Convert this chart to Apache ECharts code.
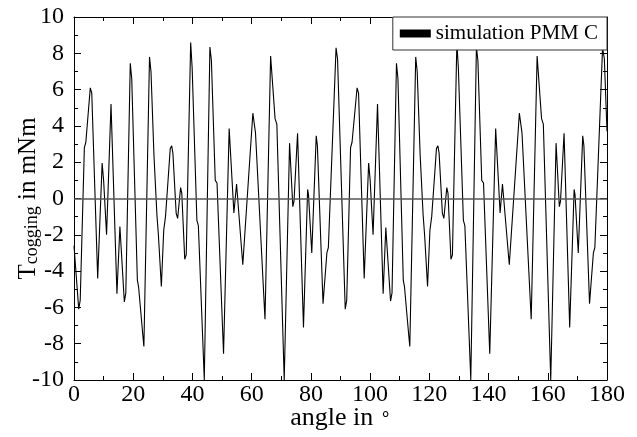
<!DOCTYPE html>
<html>
<head>
<meta charset="utf-8">
<script src="https://cdn.jsdelivr.net/npm/echarts@6/dist/echarts.min.js"></script>
<style>
html,body{margin:0;padding:0;background:#fff;}
#chart{width:637px;height:437px;}
</style>
</head>
<body>
<div id="chart"></div>
<script>
// angle in degrees (vertices of the simulated curve)
const angles = [
  0, 0.3, 1.6, 2.1, 3.5, 4.0, 5.5, 6.0, 8.0, 9.5, 10.0, 11.0, 12.5, 14.5, 15.5, 16.0, 17.0, 17.5,
  19.0, 19.5, 21.4, 21.8, 22.3, 23.2, 23.6, 25.5, 26.0, 27.0, 28.0, 28.5, 29.5, 30.3, 30.9, 31.7,
  32.5, 33.0, 33.4, 34.5, 35.0, 36.0, 36.4, 37.4, 37.9, 39.4, 39.9, 41.5, 42.0, 44.0, 45.9, 46.4,
  47.7, 48.3, 50.5, 52.4, 54.0, 54.9, 55.4, 57.0, 60.4, 61.3, 64.5, 66.4, 67.9, 68.5, 71.0, 72.8,
  73.9, 74.3, 75.5, 77.5, 78.9, 79.2, 80.3, 81.8, 82.2, 84.1, 84.5, 85.4, 85.9, 88.5, 89.0,
  91.6, 92.1, 93.4, 93.9, 95.6, 96.1, 98.0, 99.5, 100.0, 101.0, 102.5, 104.4, 105.3, 105.8, 106.9,
  107.4, 108.9, 109.4, 111.2, 111.6, 112.2, 113.0, 113.4, 115.4, 115.9, 116.9, 117.9, 118.4, 119.4,
  120.2, 120.8, 121.6, 122.4, 122.9, 123.3, 124.4, 124.9, 125.9, 126.3, 127.3, 127.8, 129.3, 129.8,
  131.5, 132.0, 134.0, 135.9, 136.4, 137.7, 138.3, 140.4, 142.4, 143.9, 144.7, 145.3, 147.0, 150.4,
  151.3, 154.4, 156.4, 157.9, 158.5, 161.0, 162.8, 163.9, 164.3, 165.5, 167.4, 168.9, 169.2, 170.3,
  171.8, 172.2, 174.1, 174.5, 175.4, 175.9, 178.5, 179.1, 180.0
];
// cogging torque in mNm
const torque = [
  -2.6, -2.7, -6.1, -5.6, 2.8, 3.1, 6.1, 5.8, -4.4, 1.95, 1.0, -2.0, 5.2, -5.25, -1.55, -1.45, -5.7, -5.2,
  7.45, 6.6, -4.5, -4.85, -4.95, -7.45, -8.15, 7.8, 7.0, 2.4, -0.9, -2.0, -4.85, -1.75, -1.0, 0.85,
  2.75, 2.9, 2.5, -0.8, -1.1, 0.6, 0.3, -3.35, -3.1, 8.6, 7.2, -1.2, -1.5, -10.0, 8.35, 7.6,
  1.0, 0.85, -8.55, 3.85, -0.8, 0.8, 0.8, -3.65, 4.7, 3.6, -6.65, 7.85, 4.4, 4.1, -10.0, 3.05,
  -0.45, -0.15, 3.6, -7.1, 0.5, 0.2, -3.0, 3.45, 2.9, -5.8, -5.7, -3.0, -2.7, 8.3, 7.7,
  -6.1, -5.6, 2.8, 3.1, 6.1, 5.8, -4.4, 1.95, 1.05, -2.0, 5.2, -5.25, -1.6, -1.5, -5.65,
  -5.2, 7.45, 6.6, -4.5, -4.85, -4.95, -7.45, -8.15, 7.8, 7.0, 2.4, -0.9, -2.0, -4.85,
  -1.75, -1.0, 0.85, 2.75, 2.9, 2.5, -0.8, -1.1, 0.6, 0.3, -3.35, -3.1, 8.6, 7.2,
  -1.2, -1.5, -10.0, 8.35, 7.6, 1.0, 0.85, -8.55, 3.85, -0.8, 0.8, 0.8, -3.65, 4.7,
  3.6, -6.65, 7.85, 4.4, 4.1, -10.0, 3.05, -0.45, -0.15, 3.6, -7.1, 0.5, 0.2, -3.0,
  3.45, 2.9, -5.8, -5.7, -3.0, -2.7, 8.3, 7.7, 3.7
];
const xTicks = [0, 20, 40, 60, 80, 100, 120, 140, 160, 180];
const yTicks = [-10, -8, -6, -4, -2, 0, 2, 4, 6, 8, 10];
const seriesName = 'simulation PMM C';

const font = 'Liberation Serif';
const data = angles.map((a, i) => [a, torque[i]]);

const chart = echarts.init(document.getElementById('chart'), null, {renderer: 'canvas'});
const tickCommon = {inside: true, length: 7, lineStyle: {color: '#000', width: 1}};
const minorCommon = {show: true, splitNumber: 2, length: 4, lineStyle: {color: '#000', width: 1}};
chart.setOption({
  animation: false,
  backgroundColor: '#fff',
  grid: {left: 74, right: 30, top: 17, bottom: 57, containLabel: false, outerBoundsMode: 'none'},
  legend: {
    right: 30, top: 17,
    data: [seriesName],
    backgroundColor: '#fff',
    borderColor: '#333', borderWidth: 1, borderRadius: 0,
    padding: [6, 9, 6, 7],
    icon: 'rect', itemWidth: 31, itemHeight: 8, itemGap: 6,
    textStyle: {fontFamily: font, fontSize: 21, color: '#000'}
  },
  xAxis: [{
    type: 'value', min: 0, max: 180, interval: 20,
    axisLine: {show: true, onZero: false, lineStyle: {color: '#000', width: 1}},
    axisTick: tickCommon,
    minorTick: minorCommon,
    splitLine: {show: false},
    axisLabel: {color: '#000', fontFamily: font, fontSize: 24, margin: 3,
      formatter: v => xTicks.includes(v) ? String(v) : ''},
    name: '{t|angle in }{sup|∘}',
    nameLocation: 'middle', nameGap: 25, nameMoveOverlap: false,
    nameTextStyle: {
      rich: {
        t: {fontFamily: font, fontSize: 26, color: '#000', lineHeight: 27},
        sup: {fontFamily: font, fontSize: 18, color: '#000', lineHeight: 8, verticalAlign: 'top'}
      }
    }
  }, {
    type: 'value', min: 0, max: 180, interval: 20, position: 'top',
    axisLine: {show: true, onZero: false, lineStyle: {color: '#000', width: 1}},
    axisTick: tickCommon, minorTick: minorCommon,
    splitLine: {show: false}, axisLabel: {show: false}
  }],
  yAxis: [{
    type: 'value', min: -10, max: 10, interval: 2,
    axisLine: {show: true, onZero: false, lineStyle: {color: '#000', width: 1}},
    axisTick: tickCommon,
    minorTick: minorCommon,
    splitLine: {show: false},
    axisLabel: {color: '#000', fontFamily: font, fontSize: 24, margin: 10,
      formatter: v => yTicks.includes(v) ? String(v) : ''},
    name: '{t|T}{s|cogging}{t| in mNm}',
    nameLocation: 'middle', nameGap: 33, nameRotate: 90, nameMoveOverlap: false,
    nameTextStyle: {
      rich: {
        t: {fontFamily: font, fontSize: 25, color: '#000', lineHeight: 26},
        s: {fontFamily: font, fontSize: 18, color: '#000', lineHeight: 6, verticalAlign: 'bottom'}
      }
    }
  }, {
    type: 'value', min: -10, max: 10, interval: 2, position: 'right',
    axisLine: {show: true, onZero: false, lineStyle: {color: '#000', width: 1}},
    axisTick: tickCommon, minorTick: minorCommon,
    splitLine: {show: false}, axisLabel: {show: false}
  }],
  series: [{
    name: seriesName,
    type: 'line',
    data: data,
    showSymbol: false,
    symbol: 'none',
    color: '#000',
    lineStyle: {color: '#000', width: 1.1},
    markLine: {
      silent: true, symbol: 'none',
      label: {show: false},
      lineStyle: {color: '#555', width: 1.5, type: 'solid'},
      data: [{yAxis: 0}]
    }
  }]
});
</script>
</body>
</html>
